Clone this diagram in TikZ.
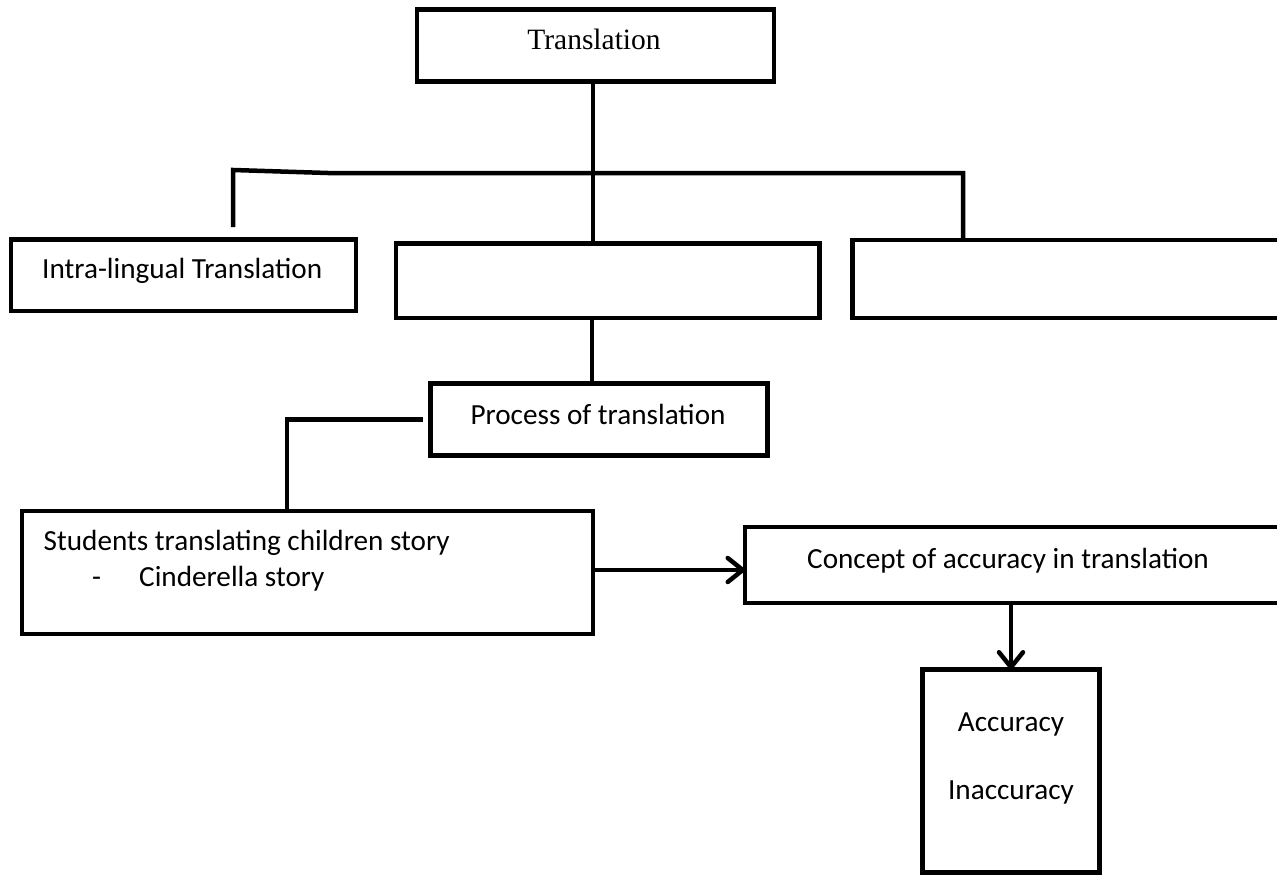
\documentclass[tikz,border=0pt]{standalone}
\usepackage{fontspec}
\setmainfont{Carlito}
\newfontfamily\seriffam{Liberation Serif}
\usetikzlibrary{arrows.meta}
\begin{document}
\begin{tikzpicture}[x=1pt,y=-1pt,
  box/.style={draw, line width=4.5pt, inner sep=0pt, outer sep=0pt, rectangle},
  conn/.style={line width=4.5pt},
  arr/.style={line width=4.5pt, -{Straight Barb[length=15pt,width=24pt,line width=4.5pt,round]}},
  lbl/.style={font=\fontsize{29.2}{35}\selectfont, inner sep=0pt, anchor=base west},
  ctr/.style={lbl, anchor=base},
  sertxt/.style={font=\seriffam\fontsize{29.5}{35}\selectfont, inner sep=0pt, anchor=base}]
\useasboundingbox (0,0) rectangle (1277,875);
\fill[white] (0,0) rectangle (1277,875);
\clip (0,0) rectangle (1277,875);

% boxes
\node[box, minimum width=357pt, minimum height=72pt] (trans) at (595.5,45.5) {};
\node[box, minimum width=345pt, minimum height=71.5pt] (intra) at (183.5,275.25) {};
\node[box, minimum width=423.5pt, minimum height=74.5pt] (mid) at (607.75,280.75) {};
\node[box, minimum width=447.5pt, minimum height=78pt] (right) at (1076.25,279) {};
\node[box, minimum width=337pt, minimum height=72pt] (proc) at (599,419.5) {};
\node[box, minimum width=571pt, minimum height=123pt] (stud) at (307.5,572.5) {};
\node[box, minimum width=555pt, minimum height=76pt] (conc) at (1022.5,565) {};
\node[box, minimum width=177pt, minimum height=203pt] (acc) at (1011,771) {};

% texts
\node[sertxt] (ttrans) at (594,50) {Translation};
\node[lbl] (tintra) at (42,278) {Intra-lingual Translation};
\node[ctr] (tproc) at (598,424) {Process of translation};
\node[lbl] (tstud) at (43.5,550) {Students translating children story};
\node[lbl] (tdash) at (92,586) {-};
\node[lbl] (tcind) at (139,586) {Cinderella story};
\node[lbl] (tconc) at (807,568) {Concept of accuracy in translation};
\node[ctr] (tacc) at (1011,731) {Accuracy};
\node[ctr] (tinacc) at (1011,799) {Inaccuracy};

% connectors
\coordinate (lend) at (233,227);
\coordinate (ljoin) at (233,170);
\coordinate (kink) at (328,173);
\coordinate (rjoin) at (963,173);
\draw[conn] (lend) -- (ljoin) -- (kink) -- (rjoin) -- (rjoin |- right.north);
\draw[conn] ([xshift=-2.5pt]trans.south) -- ([xshift=-2.5pt]trans.south |- mid.north);
\coordinate (px) at (592,0);
\draw[conn] (px |- mid.south) -- (px |- proc.north);
\coordinate (pl) at (423,419.5);
\coordinate (pc) at (287,419.5);
\draw[conn] (pl) -- (pc) -- (pc |- stud.north);
\coordinate (ya) at (0,570);
\draw[arr] (stud.east |- ya) -- (conc.west |- ya);
\draw[arr] (acc.north |- conc.south) -- (acc.north);
\end{tikzpicture}
\end{document}
